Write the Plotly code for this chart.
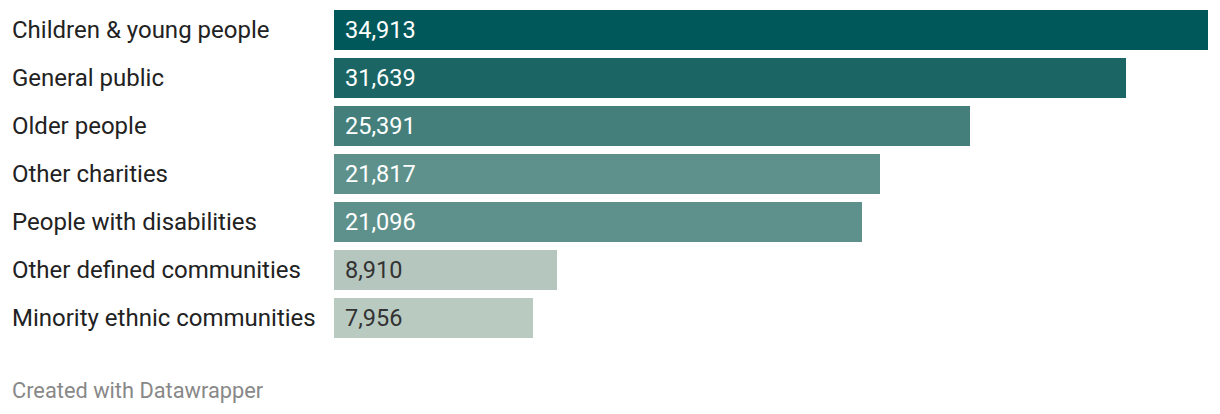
import plotly.graph_objects as go

categories = ["Children & young people", "General public", "Older people", "Other charities",
              "People with disabilities", "Other defined communities", "Minority ethnic communities"]
values = [34913, 31639, 25391, 21817, 21096, 8910, 7956]
bar_colors = ["#01585B", "#1B6565", "#447F7B", "#5E918B", "#5E918B", "#B5C6BE", "#B9CAC1"]
label_colors = ["#ffffff", "#ffffff", "#ffffff", "#ffffff", "#ffffff", "#333333", "#333333"]

W, H = 1220, 414
ml, mr, mt = 334, 12, 6
plot_w = W - ml - mr
plot_h = 48 * len(categories)
mb = H - mt - plot_h

fig = go.Figure(go.Bar(
    x=values, y=categories, orientation="h",
    marker=dict(color=bar_colors, line=dict(width=0)),
    width=40 / 48, hoverinfo="skip",
))

annotations = []
for c, v, lc in zip(categories, values, label_colors):
    annotations.append(dict(x=0, y=c, xref="x", yref="y", text=f"{v:,}", showarrow=False,
                            xanchor="left", yanchor="middle", xshift=9,
                            font=dict(family="Roboto", size=23.5, color=lc)))
    annotations.append(dict(x=(10 - ml) / plot_w, y=c, xref="paper", yref="y", text=c,
                            showarrow=False, xanchor="left", yanchor="middle",
                            font=dict(family="Roboto", size=24, color="#222222")))
annotations.append(dict(x=(10 - ml) / plot_w, y=(mt + plot_h - 390) / plot_h, xref="paper", yref="paper",
                        text="Created with Datawrapper", showarrow=False, xanchor="left",
                        yanchor="middle", font=dict(family="Roboto", size=21.8, color="#888888")))

fig.update_layout(
    width=W, height=H,
    margin=dict(l=ml, r=mr, t=mt, b=mb, pad=0),
    paper_bgcolor="white", plot_bgcolor="white",
    showlegend=False,
    xaxis=dict(range=[0, max(values)], visible=False, fixedrange=True),
    yaxis=dict(categoryorder="array", categoryarray=categories, range=[len(categories) - 0.5, -0.5],
               visible=False, fixedrange=True),
    annotations=annotations,
    bargap=0,
)

fig.write_html("out.html", config={"displayModeBar": False},
               post_script="document.body.style.margin='0';")
